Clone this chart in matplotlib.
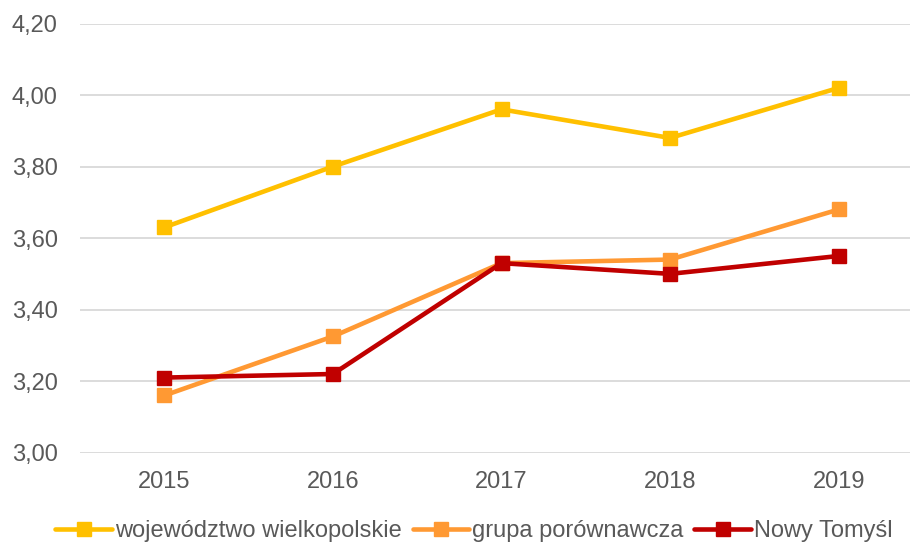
import matplotlib.pyplot as plt
from matplotlib.ticker import FuncFormatter

years = ['2015', '2016', '2017', '2018', '2019']
wojewodztwo = [3.63, 3.80, 3.96, 3.88, 4.02]
grupa = [3.16, 3.325, 3.53, 3.54, 3.68]
nowy_tomysl = [3.21, 3.22, 3.53, 3.50, 3.55]

series = [
    ('województwo wielkopolskie', wojewodztwo, '#FFC000'),
    ('grupa porównawcza', grupa, '#FF9933'),
    ('Nowy Tomyśl', nowy_tomysl, '#C00000'),
]

plt.rcParams['font.family'] = ['Liberation Sans', 'DejaVu Sans']
text_color = '#595959'

fig = plt.figure(figsize=(9.1, 5.44), dpi=100)
ax = fig.add_axes([80 / 910, 1 - 452.7 / 544, (923 - 80) / 910, (452.7 - 23.5) / 544])

x = list(range(len(years)))
for label, values, color in series:
    ax.plot(x, values, color=color, lw=3.3, marker='s', markersize=10.5,
            label=label, solid_capstyle='round', zorder=3)

ax.set_xlim(-0.5, len(years) - 0.5)
ax.set_ylim(3.0, 4.2)
ax.set_yticks([3.0, 3.2, 3.4, 3.6, 3.8, 4.0, 4.2])
ax.yaxis.set_major_formatter(FuncFormatter(lambda v, p: f'{v:.2f}'.replace('.', ',')))
ax.set_xticks(x)
ax.set_xticklabels(years)
ax.grid(axis='y', color='#D9D9D9', lw=1.3)
ax.set_axisbelow(True)
for s in ax.spines.values():
    s.set_visible(False)
ax.tick_params(length=0, labelsize=17, colors=text_color)
ax.tick_params(axis='x', pad=13)
ax.tick_params(axis='y', pad=16)

leg = fig.legend(loc='center', bbox_to_anchor=(474 / 910, 1 - 531 / 544), ncol=3, frameon=False,
                 fontsize=17, handlelength=2.4, handletextpad=0.13, columnspacing=0.45,
                 borderpad=0, borderaxespad=0)
for t in leg.get_texts():
    t.set_color(text_color)

fig.savefig('out.png', dpi=100)
